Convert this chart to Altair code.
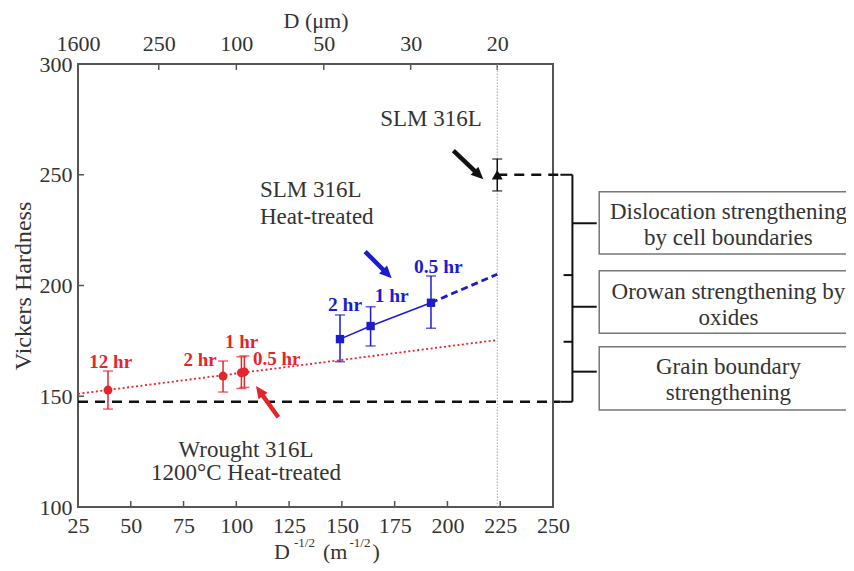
import math
import altair as alt
import pandas as pd

FONT = "Liberation Serif, Times New Roman, serif"
TXT = "#333333"
RED = "#e3262c"
BLUE = "#1c1ccf"
BLK = "#111111"
FRAME = "#555555"

# ---------------- axis ticks ----------------
X_TICKS = [25, 50, 75, 100, 125, 150, 175, 200, 225, 250]
Y_TICKS = [100, 150, 200, 250, 300]
D_UM = [1600, 250, 100, 50, 30, 20]                 # top axis: grain size D (um)
D_POS = [1.0 / math.sqrt(d * 1e-6) for d in D_UM]  # same ticks in D^-1/2 (m^-1/2)
TICK_LEN_X = 2.8   # inward tick length, x units
TICK_LEN_Y = 2.7   # inward tick length, y units

# ---------------- Wrought 316L, 1200 C heat-treated ----------------
W_TIME = ["12 hr", "2 hr", "1 hr", "0.5 hr"]
W_X = [39.2, 93.7, 102.4, 103.8]
W_HV = [152.8, 159.1, 160.6, 161.0]
W_LO = [144.2, 151.9, 153.5, 154.0]
W_HI = [161.4, 165.9, 167.8, 168.2]
W_LAB_X = [40.5, 82.8, 102.5, 119.1]
W_LAB_Y = [165.6, 166.4, 174.6, 166.7]
W_FIT_X = [25.0, 223.6]
W_FIT_HV = [151.1, 175.4]

# ---------------- SLM 316L heat-treated ----------------
S_TIME = ["2 hr", "1 hr", "0.5 hr"]
S_X = [149.1, 163.6, 192.2]
S_HV = [175.8, 181.7, 192.2]
S_LO = [165.6, 172.7, 180.7]
S_HI = [186.7, 190.4, 204.3]
S_LAB_X = [151.5, 173.6, 195.7]
S_LAB_Y = [191.2, 195.3, 208.5]
S_EXT_X = [192.2, 223.6]
S_EXT_HV = [192.2, 205.1]

# ---------------- SLM 316L as-built ----------------
A_X = [223.6]
A_HV = [250.0]
A_LO = [242.7]
A_HI = [257.1]

D20 = 223.6          # D = 20 um
GB_LEVEL = 147.5     # grain-boundary strengthening baseline
DASH_END = 253.5
BRK_X = 259.2        # bracket spine
STEM_END = 270.7
JOINTS = [204.7, 174.6]
STEMS = [228.1, 190.4, 161.1]

# boxes on the right
BOX_X0 = 271.9
BOX_X1 = 400.0
BOX_TOP = [242.3, 206.7, 172.4]
BOX_BOT = [214.2, 178.4, 143.8]
BOX_TXT_X = 333.1
BOX_LINES = ["Dislocation strengthening", "by cell boundaries",
             "Orowan strengthening by", "oxides",
             "Grain boundary", "strengthening"]
BOX_LINES_Y = [233.3, 221.3, 197.2, 185.2, 163.3, 151.6]

# annotations
NOTE_C = ["SLM 316L", "Wrought 316L", "1200\u00b0C Heat-treated"]
NOTE_C_X = [192.2, 104.6, 104.6]
NOTE_C_Y = [275.2, 125.7, 115.2]
NOTE_L = ["SLM 316L", "Heat-treated"]
NOTE_L_X = [111.2, 111.2]
NOTE_L_Y = [243.1, 230.9]

# arrows (tail -> tip)
AR_TAIL_X = [202.8, 161.0, 119.9]
AR_TAIL_Y = [260.9, 215.3, 140.5]
AR_TIP_X = [217.0, 173.6, 109.3]
AR_TIP_Y = [248.0, 203.3, 154.6]
AR_COLOR = [BLK, BLUE, RED]

# x-axis title pieces: D^-1/2 (m^-1/2)
XT_TEXT = ["D", "(m", ")"]
XT_X = [117.8, 141.0, 164.5]
XT_SUP = ["-1/2", "-1/2"]
XT_SUP_X = [127.3, 153.6]
XT_Y = 79.7
XT_SUP_Y = 83.7

# ---------------- geometry helpers ----------------
W_PX, H_PX = 475, 443
PXX = W_PX / 225.0
PXY = H_PX / 200.0
HEAD = "M0,0L0.62,1.35L-0.62,1.35Z"
HEAD_SIZE = 330
head_len = 1.35 * math.sqrt(HEAD_SIZE) / 2

ang, sx2, sy2 = [], [], []
for tx, ty, hx, hy in zip(AR_TAIL_X, AR_TAIL_Y, AR_TIP_X, AR_TIP_Y):
    dx = (hx - tx) * PXX
    dy = -(hy - ty) * PXY
    L = math.hypot(dx, dy)
    ang.append(math.degrees(math.atan2(dx, -dy)) % 360)
    back = 0.8 * head_len
    sx2.append(hx - dx / L * back / PXX)
    sy2.append(hy + dy / L * back / PXY)

xs = alt.Scale(domain=[25, 250], nice=False, zero=False)
ys = alt.Scale(domain=[100, 300], nice=False, zero=False)


def ex(f):
    return alt.X(f"{f}:Q", scale=xs, axis=None)


def ey(f):
    return alt.Y(f"{f}:Q", scale=ys, axis=None)


# ---------------- layers ----------------
left_ticks = alt.Chart(pd.DataFrame({"y": Y_TICKS[1:-1]})).transform_calculate(
    x0="25", x1=f"25 + {TICK_LEN_X}"
).mark_rule(color=FRAME, strokeWidth=1.5).encode(
    y=alt.Y("y:Q", scale=ys, axis=alt.Axis(
        orient="left", values=Y_TICKS, ticks=False, domain=False, grid=False,
        labelFont=FONT, labelFontSize=22, labelColor=TXT, labelPadding=6,
        labelFlush=False, labelOverlap=False,
        title="Vickers Hardness", titleFont=FONT, titleFontSize=24,
        titleFontWeight="normal", titleColor=TXT, titlePadding=4)),
    x=ex("x0"), x2="x1:Q",
)

bottom_ticks = alt.Chart(pd.DataFrame({"x": X_TICKS[1:-1]})).transform_calculate(
    y0="100", y1=f"100 + {TICK_LEN_Y}"
).mark_rule(color=FRAME, strokeWidth=1.5).encode(
    x=alt.X("x:Q", scale=xs, axis=alt.Axis(
        orient="bottom", values=X_TICKS, ticks=False, domain=False, grid=False,
        labelFont=FONT, labelFontSize=22, labelColor=TXT, labelPadding=8,
        labelFlush=False, labelOverlap=False, title=None)),
    y=ey("y0"), y2="y1:Q",
)

top_ticks = alt.Chart(pd.DataFrame({"x": D_POS[1:]})).transform_calculate(
    y0="300", y1=f"300 - {TICK_LEN_Y}"
).mark_rule(color=FRAME, strokeWidth=1.5).encode(
    x=alt.X("x:Q", scale=xs, axis=alt.Axis(
        orient="top", values=D_POS, ticks=False, domain=False, grid=False,
        labelExpr="format(round(1e6/(datum.value*datum.value)), 'd')",
        labelFont=FONT, labelFontSize=22, labelColor=TXT, labelPadding=9,
        labelFlush=False, labelOverlap=False,
        title="D (\u03bcm)", titleFont=FONT, titleFontSize=22,
        titleFontWeight="normal", titleColor=TXT, titlePadding=0)),
    y=ey("y0"), y2="y1:Q",
)

vline = alt.Chart(pd.DataFrame({"x": [D20], "y0": [100], "y1": [300]})).mark_rule(
    color="#aaaaaa", strokeWidth=1, strokeDash=[1.5, 1.5]
).encode(x=ex("x"), y=ey("y0"), y2="y1:Q")

ref_df = pd.DataFrame({
    "x0": [25.0, D20], "x1": [DASH_END, DASH_END], "y": [GB_LEVEL, A_HV[0]],
})
ref_lines = alt.Chart(ref_df).mark_rule(
    color=BLK, strokeWidth=2.5, strokeDash=[10, 7], clip=False
).encode(x=ex("x0"), x2="x1:Q", y=ey("y"))

w_fit = alt.Chart(pd.DataFrame({"x": W_FIT_X, "y": W_FIT_HV})).mark_line(
    color=RED, strokeWidth=1.8, strokeDash=[2, 2.5]
).encode(x=ex("x"), y=ey("y"))

s_fit = alt.Chart(pd.DataFrame({"x": S_X, "y": S_HV})).mark_line(
    color=BLUE, strokeWidth=1.5
).encode(x=ex("x"), y=ey("y"))

s_ext = alt.Chart(pd.DataFrame({"x": S_EXT_X, "y": S_EXT_HV})).mark_line(
    color=BLUE, strokeWidth=2.8, strokeDash=[7, 4]
).encode(x=ex("x"), y=ey("y"))


def err_layers(xv, lo, hi, color):
    df = pd.DataFrame({"x": xv, "lo": lo, "hi": hi})
    base = alt.Chart(df)
    r = base.mark_rule(color=color, strokeWidth=1.5).encode(
        x=ex("x"), y=ey("lo"), y2="hi:Q")
    t1 = base.mark_tick(color=color, orient="horizontal", size=10, thickness=1.5).encode(
        x=ex("x"), y=ey("lo"))
    t2 = base.mark_tick(color=color, orient="horizontal", size=10, thickness=1.5).encode(
        x=ex("x"), y=ey("hi"))
    return [r, t1, t2]


w_err = err_layers(W_X, W_LO, W_HI, RED)
s_err = err_layers(S_X, S_LO, S_HI, BLUE)
a_err = err_layers(A_X, A_LO, A_HI, BLK)

w_pts = alt.Chart(pd.DataFrame({"x": W_X, "y": W_HV})).mark_point(
    shape="circle", filled=True, opacity=1, size=80, color=RED
).encode(x=ex("x"), y=ey("y"))
s_pts = alt.Chart(pd.DataFrame({"x": S_X, "y": S_HV})).mark_point(
    shape="square", filled=True, opacity=1, size=70, color=BLUE
).encode(x=ex("x"), y=ey("y"))
a_pts = alt.Chart(pd.DataFrame({"x": A_X, "y": A_HV})).mark_point(
    shape="triangle-up", filled=True, opacity=1, size=120, color=BLK
).encode(x=ex("x"), y=ey("y"))

w_lab = alt.Chart(pd.DataFrame({"t": W_TIME, "x": W_LAB_X, "y": W_LAB_Y})).mark_text(
    font=FONT, fontSize=19, fontWeight="bold", color=RED, align="center", baseline="middle"
).encode(x=ex("x"), y=ey("y"), text="t:N")
s_lab = alt.Chart(pd.DataFrame({"t": S_TIME, "x": S_LAB_X, "y": S_LAB_Y})).mark_text(
    font=FONT, fontSize=19.5, fontWeight="bold", color=BLUE, align="center", baseline="middle"
).encode(x=ex("x"), y=ey("y"), text="t:N")

note_c = alt.Chart(pd.DataFrame({"t": NOTE_C, "x": NOTE_C_X, "y": NOTE_C_Y})).mark_text(
    font=FONT, fontSize=23, color=TXT, align="center", baseline="middle"
).encode(x=ex("x"), y=ey("y"), text="t:N")
note_l = alt.Chart(pd.DataFrame({"t": NOTE_L, "x": NOTE_L_X, "y": NOTE_L_Y})).mark_text(
    font=FONT, fontSize=23, color=TXT, align="left", baseline="middle"
).encode(x=ex("x"), y=ey("y"), text="t:N")

ar_df = pd.DataFrame({"x0": AR_TAIL_X, "y0": AR_TAIL_Y, "x1": sx2, "y1": sy2,
                      "hx": AR_TIP_X, "hy": AR_TIP_Y, "ang": ang, "c": AR_COLOR})
ar_shaft = alt.Chart(ar_df).mark_rule(strokeWidth=4.5).encode(
    x=ex("x0"), y=ey("y0"), x2="x1:Q", y2="y1:Q", color=alt.Color("c:N", scale=None))
ar_head = alt.Chart(ar_df).mark_point(
    shape=HEAD, filled=True, opacity=1, size=HEAD_SIZE, strokeWidth=0
).encode(x=ex("hx"), y=ey("hy"), angle=alt.Angle("ang:Q", scale=None),
         color=alt.Color("c:N", scale=None))

# bracket
brk_rows = []
brk_rows.append({"x0": BRK_X, "x1": BRK_X, "y0": A_HV[0], "y1": GB_LEVEL})
brk_rows.append({"x0": DASH_END, "x1": BRK_X, "y0": A_HV[0], "y1": A_HV[0]})
brk_rows.append({"x0": DASH_END, "x1": BRK_X, "y0": GB_LEVEL, "y1": GB_LEVEL})
for j in JOINTS:
    brk_rows.append({"x0": DASH_END + 1.5, "x1": BRK_X, "y0": j, "y1": j})
for s in STEMS:
    brk_rows.append({"x0": BRK_X, "x1": STEM_END, "y0": s, "y1": s})
bracket = alt.Chart(pd.DataFrame(brk_rows)).mark_rule(
    color=BLK, strokeWidth=2, clip=False
).encode(x=ex("x0"), x2="x1:Q", y=ey("y0"), y2="y1:Q")

boxes = alt.Chart(pd.DataFrame({"x0": [BOX_X0] * 3, "x1": [BOX_X1] * 3,
                                "y0": BOX_TOP, "y1": BOX_BOT})).mark_rect(
    fill="white", stroke="#777777", strokeWidth=1.5, clip=False
).encode(x=ex("x0"), x2="x1:Q", y=ey("y0"), y2="y1:Q")

box_txt = alt.Chart(pd.DataFrame({"t": BOX_LINES, "x": [BOX_TXT_X] * 6,
                                  "y": BOX_LINES_Y})).mark_text(
    font=FONT, fontSize=23, color=TXT, align="center", baseline="middle", clip=False
).encode(x=ex("x"), y=ey("y"), text="t:N")

xt_main = alt.Chart(pd.DataFrame({"t": XT_TEXT, "x": XT_X, "y": [XT_Y] * 3})).mark_text(
    font=FONT, fontSize=22, color=TXT, align="left", baseline="middle"
).encode(x=ex("x"), y=ey("y"), text="t:N")
xt_sup = alt.Chart(pd.DataFrame({"t": XT_SUP, "x": XT_SUP_X, "y": [XT_SUP_Y] * 2})).mark_text(
    font=FONT, fontSize=13, color=TXT, align="left", baseline="middle"
).encode(x=ex("x"), y=ey("y"), text="t:N")

layers = [left_ticks, bottom_ticks, top_ticks, vline, ref_lines, w_fit, s_fit, s_ext]
layers += w_err + s_err + a_err
layers += [w_pts, s_pts, a_pts, w_lab, s_lab, note_c, note_l, ar_shaft, ar_head,
           bracket, boxes, box_txt, xt_main, xt_sup]

chart = alt.layer(*layers).resolve_axis(x="independent", y="independent").properties(
    width=W_PX, height=H_PX,
    autosize=alt.AutoSizeParams(type="none"),
    padding={"left": 70, "top": 56, "right": 293, "bottom": 64},
    background="white",
).configure_view(stroke=FRAME, strokeWidth=2)

chart.save("out.html", embed_options={"renderer": "svg", "actions": False})
